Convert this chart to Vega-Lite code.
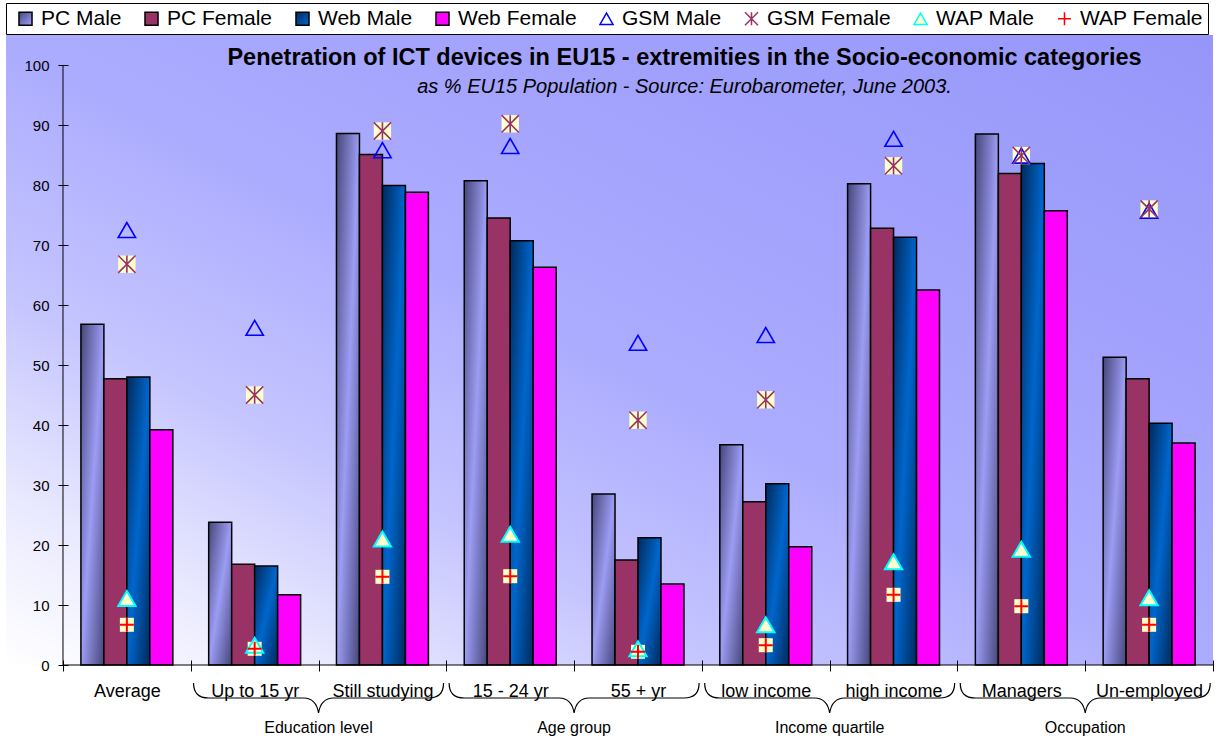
{
  "$schema": "https://vega.github.io/schema/vega-lite/v6.json",
  "width": 1207,
  "height": 630,
  "padding": {"left": 5, "top": 2, "right": 6, "bottom": 0},
  "view": {
    "stroke": null,
    "fill": {
      "gradient": "linear", "x1": 0, "y1": 1, "x2": 1, "y2": 0,
      "stops": [
        {"offset": 0, "color": "#ffffff"},
        {"offset": 0.12, "color": "#ececff"},
        {"offset": 0.3, "color": "#c4c4ff"},
        {"offset": 0.5, "color": "#ababff"},
        {"offset": 1, "color": "#9696fa"}
      ]
    }
  },
  "title": {
    "text": "Penetration of ICT devices in EU15 - extremities in the Socio-economic categories",
    "subtitle": "as % EU15 Population - Source: Eurobarometer, June 2003.",
    "frame": "group",
    "anchor": "middle",
    "orient": "top",
    "offset": -94,
    "dx": 75,
    "fontSize": 23.5,
    "fontWeight": "bold",
    "color": "#000",
    "subtitleFontSize": 20,
    "subtitleFontStyle": "italic",
    "subtitleColor": "#000",
    "subtitlePadding": 7
  },
  "datasets": {
    "ict": [
      {"cat": "Average", "series": "PC Male", "value": 56.8},
      {"cat": "Average", "series": "PC Female", "value": 47.7},
      {"cat": "Average", "series": "Web Male", "value": 48.0},
      {"cat": "Average", "series": "Web Female", "value": 39.2},
      {"cat": "Average", "series": "GSM Male", "value": 72.5},
      {"cat": "Average", "series": "GSM Female", "value": 66.8},
      {"cat": "Average", "series": "WAP Male", "value": 11.1},
      {"cat": "Average", "series": "WAP Female", "value": 6.7},
      {"cat": "Up to 15 yr", "series": "PC Male", "value": 23.8},
      {"cat": "Up to 15 yr", "series": "PC Female", "value": 16.8},
      {"cat": "Up to 15 yr", "series": "Web Male", "value": 16.5},
      {"cat": "Up to 15 yr", "series": "Web Female", "value": 11.7},
      {"cat": "Up to 15 yr", "series": "GSM Male", "value": 56.2},
      {"cat": "Up to 15 yr", "series": "GSM Female", "value": 45.0},
      {"cat": "Up to 15 yr", "series": "WAP Male", "value": 3.3},
      {"cat": "Up to 15 yr", "series": "WAP Female", "value": 2.7},
      {"cat": "Still studying", "series": "PC Male", "value": 88.6},
      {"cat": "Still studying", "series": "PC Female", "value": 85.1},
      {"cat": "Still studying", "series": "Web Male", "value": 79.9},
      {"cat": "Still studying", "series": "Web Female", "value": 78.8},
      {"cat": "Still studying", "series": "GSM Male", "value": 85.8},
      {"cat": "Still studying", "series": "GSM Female", "value": 89.0},
      {"cat": "Still studying", "series": "WAP Male", "value": 21.0},
      {"cat": "Still studying", "series": "WAP Female", "value": 14.7},
      {"cat": "15 - 24 yr", "series": "PC Male", "value": 80.7},
      {"cat": "15 - 24 yr", "series": "PC Female", "value": 74.5},
      {"cat": "15 - 24 yr", "series": "Web Male", "value": 70.7},
      {"cat": "15 - 24 yr", "series": "Web Female", "value": 66.3},
      {"cat": "15 - 24 yr", "series": "GSM Male", "value": 86.5},
      {"cat": "15 - 24 yr", "series": "GSM Female", "value": 90.2},
      {"cat": "15 - 24 yr", "series": "WAP Male", "value": 21.8},
      {"cat": "15 - 24 yr", "series": "WAP Female", "value": 14.8},
      {"cat": "55 + yr", "series": "PC Male", "value": 28.5},
      {"cat": "55 + yr", "series": "PC Female", "value": 17.5},
      {"cat": "55 + yr", "series": "Web Male", "value": 21.2},
      {"cat": "55 + yr", "series": "Web Female", "value": 13.5},
      {"cat": "55 + yr", "series": "GSM Male", "value": 53.7},
      {"cat": "55 + yr", "series": "GSM Female", "value": 40.8},
      {"cat": "55 + yr", "series": "WAP Male", "value": 2.7},
      {"cat": "55 + yr", "series": "WAP Female", "value": 2.2},
      {"cat": "low income", "series": "PC Male", "value": 36.7},
      {"cat": "low income", "series": "PC Female", "value": 27.2},
      {"cat": "low income", "series": "Web Male", "value": 30.2},
      {"cat": "low income", "series": "Web Female", "value": 19.7},
      {"cat": "low income", "series": "GSM Male", "value": 55.0},
      {"cat": "low income", "series": "GSM Female", "value": 44.2},
      {"cat": "low income", "series": "WAP Male", "value": 6.7},
      {"cat": "low income", "series": "WAP Female", "value": 3.3},
      {"cat": "high income", "series": "PC Male", "value": 80.2},
      {"cat": "high income", "series": "PC Female", "value": 72.8},
      {"cat": "high income", "series": "Web Male", "value": 71.3},
      {"cat": "high income", "series": "Web Female", "value": 62.5},
      {"cat": "high income", "series": "GSM Male", "value": 87.7},
      {"cat": "high income", "series": "GSM Female", "value": 83.2},
      {"cat": "high income", "series": "WAP Male", "value": 17.2},
      {"cat": "high income", "series": "WAP Female", "value": 11.7},
      {"cat": "Managers", "series": "PC Male", "value": 88.5},
      {"cat": "Managers", "series": "PC Female", "value": 81.9},
      {"cat": "Managers", "series": "Web Male", "value": 83.6},
      {"cat": "Managers", "series": "Web Female", "value": 75.7},
      {"cat": "Managers", "series": "GSM Male", "value": 84.9},
      {"cat": "Managers", "series": "GSM Female", "value": 84.9},
      {"cat": "Managers", "series": "WAP Male", "value": 19.3},
      {"cat": "Managers", "series": "WAP Female", "value": 9.8},
      {"cat": "Un-employed", "series": "PC Male", "value": 51.3},
      {"cat": "Un-employed", "series": "PC Female", "value": 47.7},
      {"cat": "Un-employed", "series": "Web Male", "value": 40.3},
      {"cat": "Un-employed", "series": "Web Female", "value": 37.0},
      {"cat": "Un-employed", "series": "GSM Male", "value": 75.7},
      {"cat": "Un-employed", "series": "GSM Female", "value": 76.0},
      {"cat": "Un-employed", "series": "WAP Male", "value": 11.2},
      {"cat": "Un-employed", "series": "WAP Female", "value": 6.7}
    ],
    "groups": [
      {"group": "Education level", "first": "Up to 15 yr"},
      {"group": "Age group", "first": "15 - 24 yr"},
      {"group": "Income quartile", "first": "low income"},
      {"group": "Occupation", "first": "Managers"}
    ]
  },
  "layer": [
    {
      "data": {"name": "ict"},
      "transform": [{"filter": {"field": "series", "oneOf": ["PC Male", "PC Female", "Web Male", "Web Female"]}}],
      "mark": {"type": "bar", "stroke": "#000000", "strokeWidth": 1.5},
      "encoding": {
        "x": {
          "field": "cat", "type": "nominal", "sort": null,
          "scale": {
            "domain": ["Average", "Up to 15 yr", "Still studying", "15 - 24 yr", "55 + yr", "low income", "high income", "Managers", "Un-employed"],
            "paddingInner": 0, "paddingOuter": 0.223, "align": 1
          },
          "axis": {
            "title": null, "labelAngle": 0, "labelFontSize": 18, "labelColor": "#000000",
            "tickColor": "#000000", "tickSize": 11, "tickBand": "extent", "domain": false,
            "offset": -5, "labelPadding": 11
          }
        },
        "xOffset": {
          "field": "series", "type": "nominal",
          "scale": {"domain": ["PC Male", "PC Female", "Web Male", "Web Female"], "paddingInner": 0, "paddingOuter": 0.78}
        },
        "y": {
          "field": "value", "type": "quantitative",
          "scale": {"domain": [0, 105], "nice": false},
          "axis": {
            "title": null, "values": [0, 10, 20, 30, 40, 50, 60, 70, 80, 90, 100],
            "labelFontSize": 15, "labelColor": "#000000", "tickColor": "#000000",
            "tickSize": 10, "offset": -62, "domain": false, "grid": false, "labelPadding": 9
          }
        },
        "color": {
          "condition": [
            {"test": "datum.series === 'PC Male'", "value": {"gradient": "linear", "x1": 0, "y1": 0, "x2": 1, "y2": 1, "stops": [{"offset": 0, "color": "#46467a"}, {"offset": 0.5, "color": "#9c9cf4"}, {"offset": 1, "color": "#46467a"}]}},
            {"test": "datum.series === 'Web Male'", "value": {"gradient": "linear", "x1": 0, "y1": 0, "x2": 1, "y2": 1, "stops": [{"offset": 0, "color": "#002a5c"}, {"offset": 0.5, "color": "#0066cc"}, {"offset": 1, "color": "#002a5c"}]}},
            {"test": "datum.series === 'PC Female'", "value": "#993366"}
          ],
          "value": "#ff00ff"
        }
      }
    },
    {
      "data": {"values": [{}]},
      "mark": {"type": "rule", "color": "#000000", "strokeWidth": 1},
      "encoding": {
        "x": {"datum": "Average", "bandPosition": 0},
        "y": {"datum": 0},
        "y2": {"datum": 100}
      }
    },
    {
      "data": {"values": [{}]},
      "mark": {"type": "rule", "color": "#000000", "strokeWidth": 1},
      "encoding": {
        "x": {"datum": "Average", "bandPosition": 0},
        "x2": {"datum": "Un-employed", "bandPosition": 1},
        "y": {"datum": 0}
      }
    },
    {
      "data": {"name": "ict"},
      "transform": [{"filter": {"field": "series", "oneOf": ["GSM Female", "WAP Female"]}}],
      "mark": {"type": "point", "shape": "square", "filled": true, "fill": "#ffffcc", "strokeWidth": 0, "opacity": 1},
      "encoding": {
        "x": {"field": "cat", "type": "nominal"},
        "y": {"field": "value", "type": "quantitative"},
        "size": {"condition": {"test": "datum.series === 'WAP Female'", "value": 196}, "value": 300}
      }
    },
    {
      "data": {"name": "ict"},
      "transform": [{"filter": {"field": "series", "oneOf": ["GSM Male", "GSM Female", "WAP Male", "WAP Female"]}}],
      "mark": {"type": "point", "opacity": 1},
      "encoding": {
        "x": {"field": "cat", "type": "nominal"},
        "y": {"field": "value", "type": "quantitative"},
        "shape": {
          "field": "series", "type": "nominal",
          "scale": {
            "domain": ["PC Male", "PC Female", "Web Male", "Web Female", "GSM Male", "GSM Female", "WAP Male", "WAP Female"],
            "range": ["square", "square", "square", "square", "triangle-up", "M0,-1L0,1M-1,-1L1,1M-1,1L1,-1", "triangle-up", "M0,-1L0,1M-1,0L1,0"]
          },
          "legend": {
            "title": null,
            "orient": "top",
            "direction": "horizontal",
            "offset": 1,
            "padding": 5,
            "columnPadding": 15,
            "symbolOffset": 4,
            "labelOffset": 5,
            "labelFontSize": 21,
            "labelColor": "#000000",
            "labelLimit": 300,
            "fillColor": "#ffffff",
            "strokeColor": "#000000",
            "encoding": {
              "symbols": {
                "size": {"value": 170},
                "shape": {
                  "condition": [
                    {"test": "datum.value === 'GSM Female'", "value": "M-1,-1L1,-1L1,1L-1,1Z M0,-1L0,1M-1,-1L1,1M-1,1L1,-1"},
                    {"test": "datum.value === 'WAP Female'", "value": "M-1,-1L1,-1L1,1L-1,1Z M0,-1L0,1M-1,0L1,0"},
                    {"test": "datum.value === 'GSM Male' || datum.value === 'WAP Male'", "value": "triangle-up"}
                  ],
                  "value": "square"
                },
                "fill": {
                  "condition": [
                    {"test": "datum.value === 'PC Male'", "value": {"gradient": "linear", "x1": 0, "y1": 0, "x2": 1, "y2": 1, "stops": [{"offset": 0, "color": "#46467a"}, {"offset": 1, "color": "#a0a0ff"}]}},
                    {"test": "datum.value === 'Web Male'", "value": {"gradient": "linear", "x1": 0, "y1": 0, "x2": 1, "y2": 1, "stops": [{"offset": 0, "color": "#002a5c"}, {"offset": 1, "color": "#0066cc"}]}},
                    {"test": "datum.value === 'PC Female'", "value": "#993366"},
                    {"test": "datum.value === 'Web Female'", "value": "#ff00ff"},
                    {"test": "datum.value === 'GSM Male'", "value": "transparent"}
                  ],
                  "value": "#ffffcc"
                },
                "stroke": {
                  "condition": [
                    {"test": "datum.value === 'GSM Male'", "value": "#0000ff"},
                    {"test": "datum.value === 'GSM Female'", "value": "#993366"},
                    {"test": "datum.value === 'WAP Male'", "value": "#00ffff"},
                    {"test": "datum.value === 'WAP Female'", "value": "#ff0000"}
                  ],
                  "value": "#000000"
                },
                "strokeWidth": {"value": 1.5},
                "opacity": {"value": 1}
              }
            }
          }
        },
        "fill": {
          "condition": {"test": "datum.series === 'WAP Male'", "value": "#ffffcc"},
          "value": "transparent"
        },
        "stroke": {
          "condition": [
            {"test": "datum.series === 'GSM Male'", "value": "#0000ff"},
            {"test": "datum.series === 'GSM Female'", "value": "#993366"},
            {"test": "datum.series === 'WAP Male'", "value": "#00ffff"}
          ],
          "value": "#ff0000"
        },
        "strokeWidth": {
          "condition": {"test": "datum.series === 'WAP Male' || datum.series === 'WAP Female'", "value": 2},
          "value": 1.6
        },
        "size": {"condition": {"test": "datum.series === 'WAP Female'", "value": 196}, "value": 300}
      }
    },
    {
      "data": {"name": "groups"},
      "mark": {
        "type": "point",
        "shape": "M-1,-0.12Q-1,0 -0.88,0L-0.12,0Q-0.02,0 0,0.12Q0.02,0 0.12,0L0.88,0Q1,0 1,-0.12",
        "size": 62500, "filled": false, "stroke": "#000000", "strokeWidth": 1.2, "opacity": 1
      },
      "encoding": {
        "x": {"field": "first", "type": "nominal", "bandPosition": 1},
        "y": {"datum": -5.5}
      }
    },
    {
      "data": {"name": "groups"},
      "mark": {"type": "text", "fontSize": 16, "color": "#000000", "baseline": "middle", "align": "center"},
      "encoding": {
        "x": {"field": "first", "type": "nominal", "bandPosition": 1},
        "y": {"datum": -10.5},
        "text": {"field": "group"}
      }
    }
  ],
  "config": {
    "font": "Liberation Sans",
    "axis": {"labelFont": "Liberation Sans"},
    "legend": {"labelFont": "Liberation Sans"}
  }
}
